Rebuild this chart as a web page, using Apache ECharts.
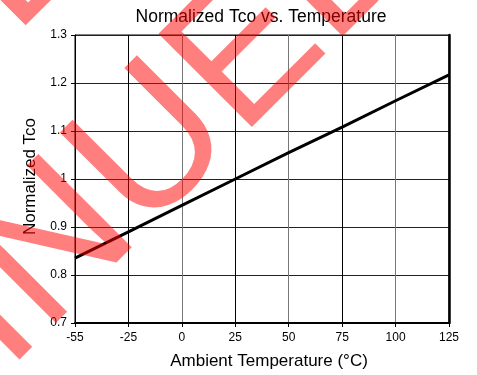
<!DOCTYPE html>
<html>
<head>
<meta charset="utf-8">
<script src="https://cdn.jsdelivr.net/npm/echarts@6/dist/echarts.min.js"></script>
<style>
  html, body { margin: 0; padding: 0; background: #fff; }
  #chart { width: 477px; height: 375px; }
</style>
</head>
<body>
<div id="chart"></div>
<script>
// ---- data ----
const titleText = 'Normalized Tco vs. Temperature';
const xAxisName = 'Ambient Temperature (°C)';
const yAxisName = 'Normalized Tco';
const categories = ['-55', '-25', '0', '25', '50', '75', '100', '125'];
const tcoValues = [0.835, 0.89, 0.945, 1.0, 1.055, 1.108, 1.163, 1.217];
const yMin = 0.7;
const yMax = 1.3;
const yStep = 0.1;
const watermarkText = 'DISCONTINUED';

const FONT = '"Liberation Sans", Arial, Helvetica, sans-serif';
const WM_FONT = '192px "Liberation Sans", Arial, sans-serif';
const chart = echarts.init(document.getElementById('chart'), null, { renderer: 'canvas' });

// place the rotated watermark so that the bottom-left corner of letter `idx`
// lands on a given screen point
const ctx = document.createElement('canvas').getContext('2d');
ctx.font = WM_FONT;
ctx.textBaseline = 'middle';
ctx.textAlign = 'left';
const c = Math.SQRT1_2;
function wmText(px, py, idx) {
  const headW = ctx.measureText(watermarkText.slice(0, idx)).width;
  const m = ctx.measureText(watermarkText.charAt(idx));
  const lx = headW - m.actualBoundingBoxLeft;
  const ly = m.actualBoundingBoxDescent;
  const ax = px - lx * c - ly * c;
  const ay = py + lx * c - ly * c;
  return {
    type: 'text', x: ax, y: ay, rotation: Math.PI / 4, z: 100, silent: true,
    style: {
      text: watermarkText, font: WM_FONT, fill: 'rgba(255,0,0,0.5)',
      align: 'left', verticalAlign: 'middle', textAlign: 'left', textVerticalAlign: 'middle'
    }
  };
}

chart.setOption({
  animation: false,
  backgroundColor: '#fff',
  title: {
    text: titleText,
    left: 256,
    top: 3,
    textAlign: 'center',
    textStyle: { fontFamily: FONT, fontSize: 17.5, fontWeight: 'normal', color: '#000' }
  },
  grid: {
    left: 75, right: 28, top: 35, bottom: 48,
    show: true, borderColor: '#000', borderWidth: 1, backgroundColor: 'transparent'
  },
  xAxis: {
    type: 'category',
    data: categories,
    boundaryGap: false,
    name: xAxisName,
    nameLocation: 'middle',
    nameGap: 30,
    nameTextStyle: { fontFamily: FONT, fontSize: 17, color: '#000', padding: [0, 0, 0, 14] },
    axisLine: { show: true, lineStyle: { color: '#000', width: 2 } },
    axisTick: { show: true, length: 4, lineStyle: { color: '#000', width: 1 } },
    axisLabel: { fontFamily: FONT, fontSize: 12, color: '#000', margin: 9 },
    splitLine: { show: true, lineStyle: { color: ['#777', '#000'], width: 1 } }
  },
  yAxis: [{
    type: 'value',
    min: yMin, max: yMax, interval: yStep,
    name: yAxisName,
    nameLocation: 'middle',
    nameGap: 36,
    nameTextStyle: { fontFamily: FONT, fontSize: 17, color: '#000', padding: [0, 0, 0, 5] },
    axisLine: { show: true, lineStyle: { color: '#000', width: 1 } },
    axisTick: { show: true, length: 4, lineStyle: { color: '#000', width: 1 } },
    axisLabel: { fontFamily: FONT, fontSize: 12, color: '#000', margin: 8,
                 verticalAlign: 'middle', padding: [0, 0, 10, 0] },
    splitLine: { show: true, lineStyle: { color: '#222', width: 1 } }
  }, {
    type: 'value',
    position: 'right',
    min: yMin, max: yMax, interval: yStep,
    axisLine: { show: true, lineStyle: { color: '#000', width: 2.5 } },
    axisTick: { show: false },
    axisLabel: { show: false },
    splitLine: { show: false }
  }],
  series: [{
    type: 'line',
    data: tcoValues,
    yAxisIndex: 0,
    symbol: 'none',
    lineStyle: { color: '#000', width: 3 },
    z: 5
  }],
  graphic: [
    wmText(342, 37, watermarkText.length - 1),
    wmText(25, 26, 0)
  ]
});
</script>
</body>
</html>
